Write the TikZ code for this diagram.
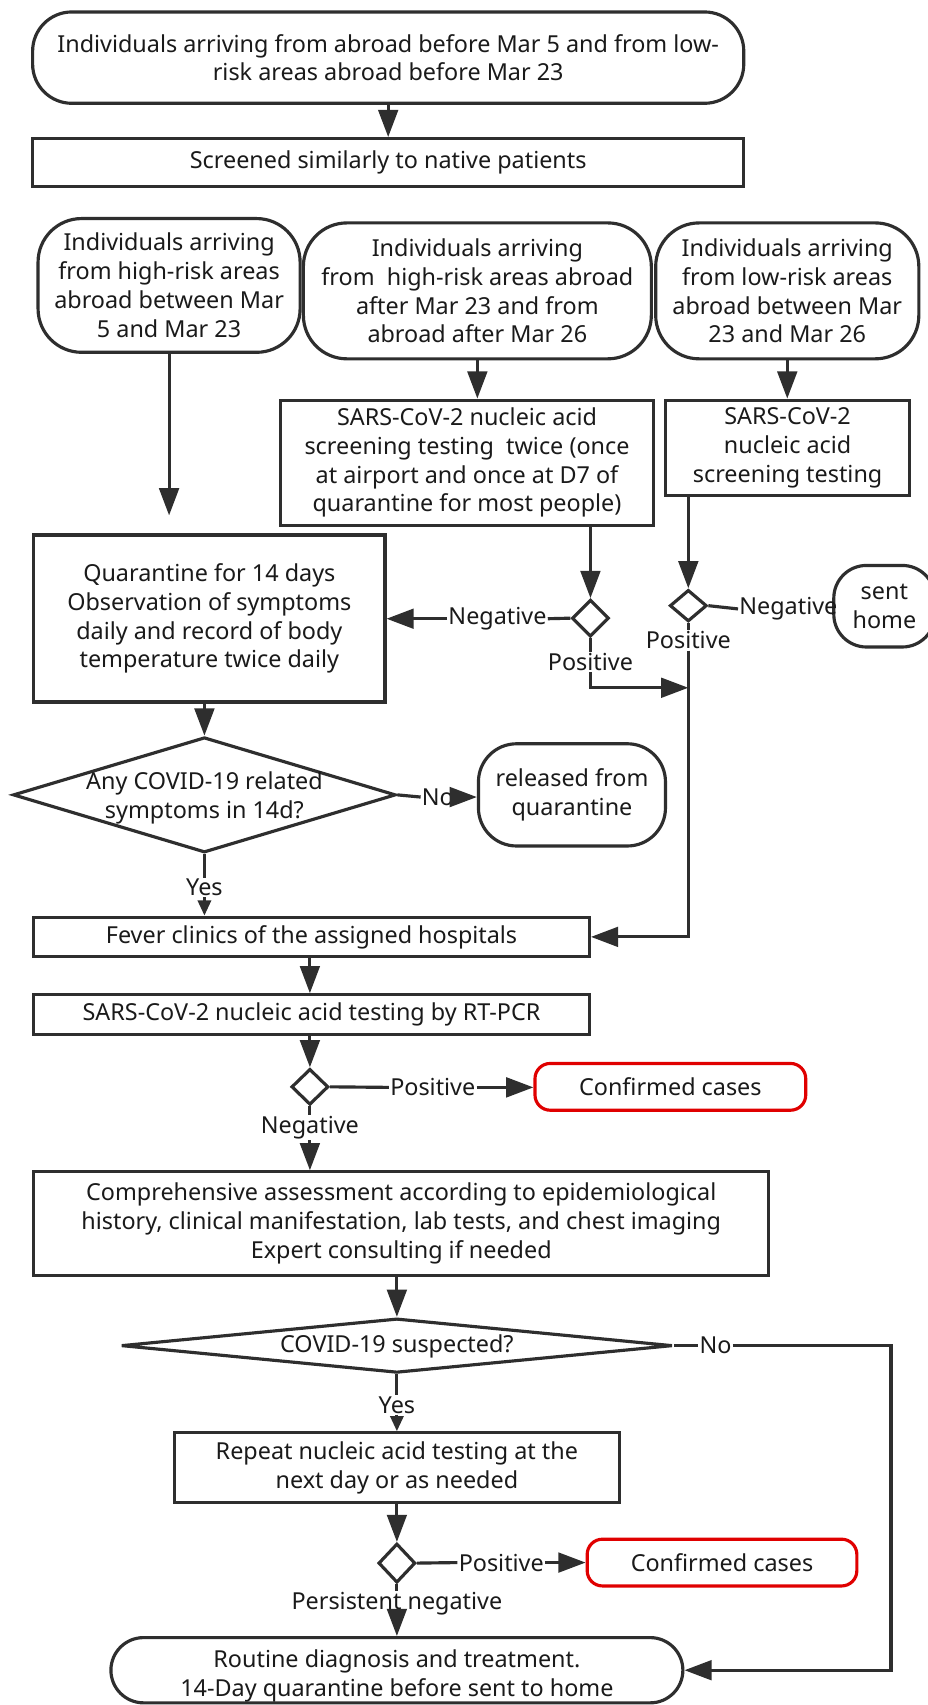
\documentclass[tikz,border=0pt]{standalone}
\usepackage{fontspec}
\setmainfont{Noto Sans}
\usetikzlibrary{shapes.geometric,arrows.meta}
\definecolor{lc}{HTML}{2E2E2E}
\definecolor{tc}{HTML}{1A1A1A}
\definecolor{redc}{HTML}{E00000}
\tikzset{
  every node/.style={font=\fontsize{21.5}{26.5}\selectfont, text=tc},
  box/.style={draw=lc, line width=2.9pt, rectangle, inner sep=0pt, align=center},
  rbox/.style={box, rounded corners=#1},
  rbox/.default=36pt,
  redbox/.style={box, draw=redc, rounded corners=14pt},
  dia/.style={draw=lc, line width=2.9pt, diamond, inner sep=0pt},
  txt/.style={inner sep=0pt, align=center},
  lbl/.style={inner sep=1pt},
  conn/.style={draw=lc, line width=2.9pt},
  arr/.style={conn, -{Triangle[length=25pt,width=18pt]}},
  sarr/.style={conn, -{Triangle[length=14pt,width=12pt]}},
}
\begin{document}
\begin{tikzpicture}[x=1pt,y=-1pt]
\fill[white] (0,0) rectangle (853,1568);
\useasboundingbox (0,0) rectangle (853,1568);

% top part
\node[rbox=36pt, minimum width=654pt, minimum height=84pt] (n1) at (357,53) {Individuals arriving from abroad before Mar 5 and from low-\\risk areas abroad before Mar 23};
\node[box, minimum width=654pt, minimum height=44pt] (n2) at (357,149.5) {Screened similarly to native patients};

\node[rbox=40pt, minimum width=241pt, minimum height=123pt] (a1) at (155.5,262.5) {Individuals arriving\\from high-risk areas\\abroad between Mar\\5 and Mar 23};
\node[rbox=40pt, minimum width=320pt, minimum height=125pt] (a2) at (439,267.5) {Individuals arriving\\from\ \ high-risk areas abroad\\after Mar 23 and from\\abroad after Mar 26};
\node[rbox=40pt, minimum width=242pt, minimum height=125pt] (a3) at (724,267.5) {Individuals arriving\\from low-risk areas\\abroad between Mar\\23 and Mar 26};
\coordinate (a1e) at (155.5,474);

\node[box, minimum width=343pt, minimum height=115pt] (b1) at (429.5,425.5) {SARS-CoV-2 nucleic acid\\screening testing\ \ twice (once\\at airport and once at D7 of\\quarantine for most people)};
\node[box, minimum width=224.6pt, minimum height=87.5pt] (b2) at (724.3,411.8) {SARS-CoV-2\\nucleic acid\\screening testing};

\node[box, minimum width=323pt, minimum height=153.6pt] (q) at (192.5,568.8) {Quarantine for 14 days\\Observation of symptoms\\daily and record of body\\temperature twice daily};

\node[dia, minimum width=34pt, minimum height=34pt] (d1) at (543,568.5) {};
\node[dia, minimum width=34pt, minimum height=29pt] (d2) at (633,557) {};
\node[rbox=30pt, minimum width=93pt, minimum height=75pt] (sent) at (813.3,557.5) {sent\\home};
\node[lbl] (negA) at (457.5,569) {Negative};
\node[lbl] (posA) at (543,609) {Positive};
\node[lbl] (posB) at (633,589) {Positive};
\node[lbl] (negB) at (725,560) {Negative};
\coordinate (j1) at (633,632.5);

% middle
\node[dia, minimum width=352pt, minimum height=106pt] (d3) at (188,731) {};
\node[txt] (d3t) at (188,733.8) {Any COVID-19 related\\symptoms in 14d?};
\node[lbl] (noA) at (402.7,733) {No};
\node[rbox=35pt, minimum width=172pt, minimum height=94pt] (rel) at (526,731) {released from\\quarantine};
\node[lbl] (yesA) at (188,816) {Yes};

\node[box, minimum width=511pt, minimum height=36.2pt] (fever) at (286.5,861.6) {Fever clinics of the assigned hospitals};
\node[box, minimum width=511pt, minimum height=36.7pt] (rt) at (286.5,933.2) {SARS-CoV-2 nucleic acid testing by RT-PCR};

\node[dia, minimum width=34pt, minimum height=33pt] (d4) at (285,999.5) {};
\node[lbl] (posC) at (398,1000) {Positive};
\node[redbox, minimum width=249pt, minimum height=43pt] (conf1) at (616.5,999.5) {Confirmed cases};
\node[lbl] (negC) at (285,1036.7) {Negative};

\node[box, minimum width=676pt, minimum height=95pt] (comp) at (369,1125.2) {Comprehensive assessment according to epidemiological\\history, clinical manifestation, lab tests, and chest imaging\\Expert consulting if needed};

\node[dia, minimum width=507pt, minimum height=50pt] (d5) at (365,1237.5) {};
\node[txt] (d5t) at (365,1238) {COVID-19 suspected?};
\node[lbl] (noB) at (658,1237.5) {No};
\coordinate (nc) at (819.4,1237.5);
\node[lbl] (yesB) at (365,1292) {Yes};

\node[box, minimum width=409pt, minimum height=63.8pt] (rep) at (365,1349.6) {Repeat nucleic acid testing at the\\next day or as needed};

\node[dia, minimum width=34pt, minimum height=36pt] (d6) at (365,1437.5) {};
\node[lbl] (posD) at (461,1437) {Positive};
\node[redbox, minimum width=248pt, minimum height=43pt] (conf2) at (664,1437) {Confirmed cases};
\node[lbl] (pnA) at (365,1475) {Persistent negative};

\node[rbox=30pt, minimum width=526pt, minimum height=60pt] (rout) at (365,1536) {};
\node[txt] (routt) at (365,1541) {Routine diagnosis and treatment.\\14-Day quarantine before sent to home};

% connectors
\draw[arr] (n1.south) -- (n2.north);
\draw[arr] (a1.south) -- (a1e);
\draw[arr] (a2.south) -- (a2.south |- b1.north);
\draw[arr] (a3.south) -- (a3.south |- b2.north);
\draw[arr] (b1.south -| d1.north) -- (d1.north);
\draw[arr] (b2.south -| d2.north) -- (d2.north);
\draw[conn] (d1.west) -- (negA.east);
\draw[arr] (negA.west) -- (negA.west -| q.east);
\draw[conn] (d1.south) -- (posA.north);
\draw[arr] (posA.south) |- (j1);
\draw[conn] (d2.east) -- (negB.west);
\draw[conn] (d2.south) -- (posB.north);
\draw[arr] (posB.south) |- (fever.east);
\draw[arr] (q.south -| d3.north) -- (d3.north);
\draw[conn] (d3.east) -- (noA.west);
\draw[arr] (noA.east) -- (noA.east -| rel.west);
\draw[conn] (d3.south) -- (yesA.north);
\draw[sarr] (yesA.south) -- (yesA.south |- fever.north);
\draw[arr] (fever.south -| d4.north) -- (rt.north -| d4.north);
\draw[arr] (rt.south -| d4.north) -- (d4.north);
\draw[conn] (d4.east) -- (posC.west);
\draw[arr] (posC.east) -- (posC.east -| conf1.west);
\draw[conn] (d4.south) -- (negC.north);
\draw[arr] (negC.south) -- (negC.south |- comp.north);
\draw[arr] (comp.south -| d5.north) -- (d5.north);
\draw[conn] (d5.east) -- (noB.west);
\draw[arr] (noB.east) -- (nc) |- (rout.east);
\draw[conn] (d5.south) -- (yesB.north);
\draw[sarr] (yesB.south) -- (yesB.south |- rep.north);
\draw[arr] (rep.south -| d6.north) -- (d6.north);
\draw[conn] (d6.east) -- (posD.west);
\draw[arr] (posD.east) -- (posD.east -| conf2.west);
\draw[conn] (d6.south) -- (pnA.north);
\draw[arr] (pnA.south) -- (pnA.south |- rout.north);
\end{tikzpicture}
\end{document}
